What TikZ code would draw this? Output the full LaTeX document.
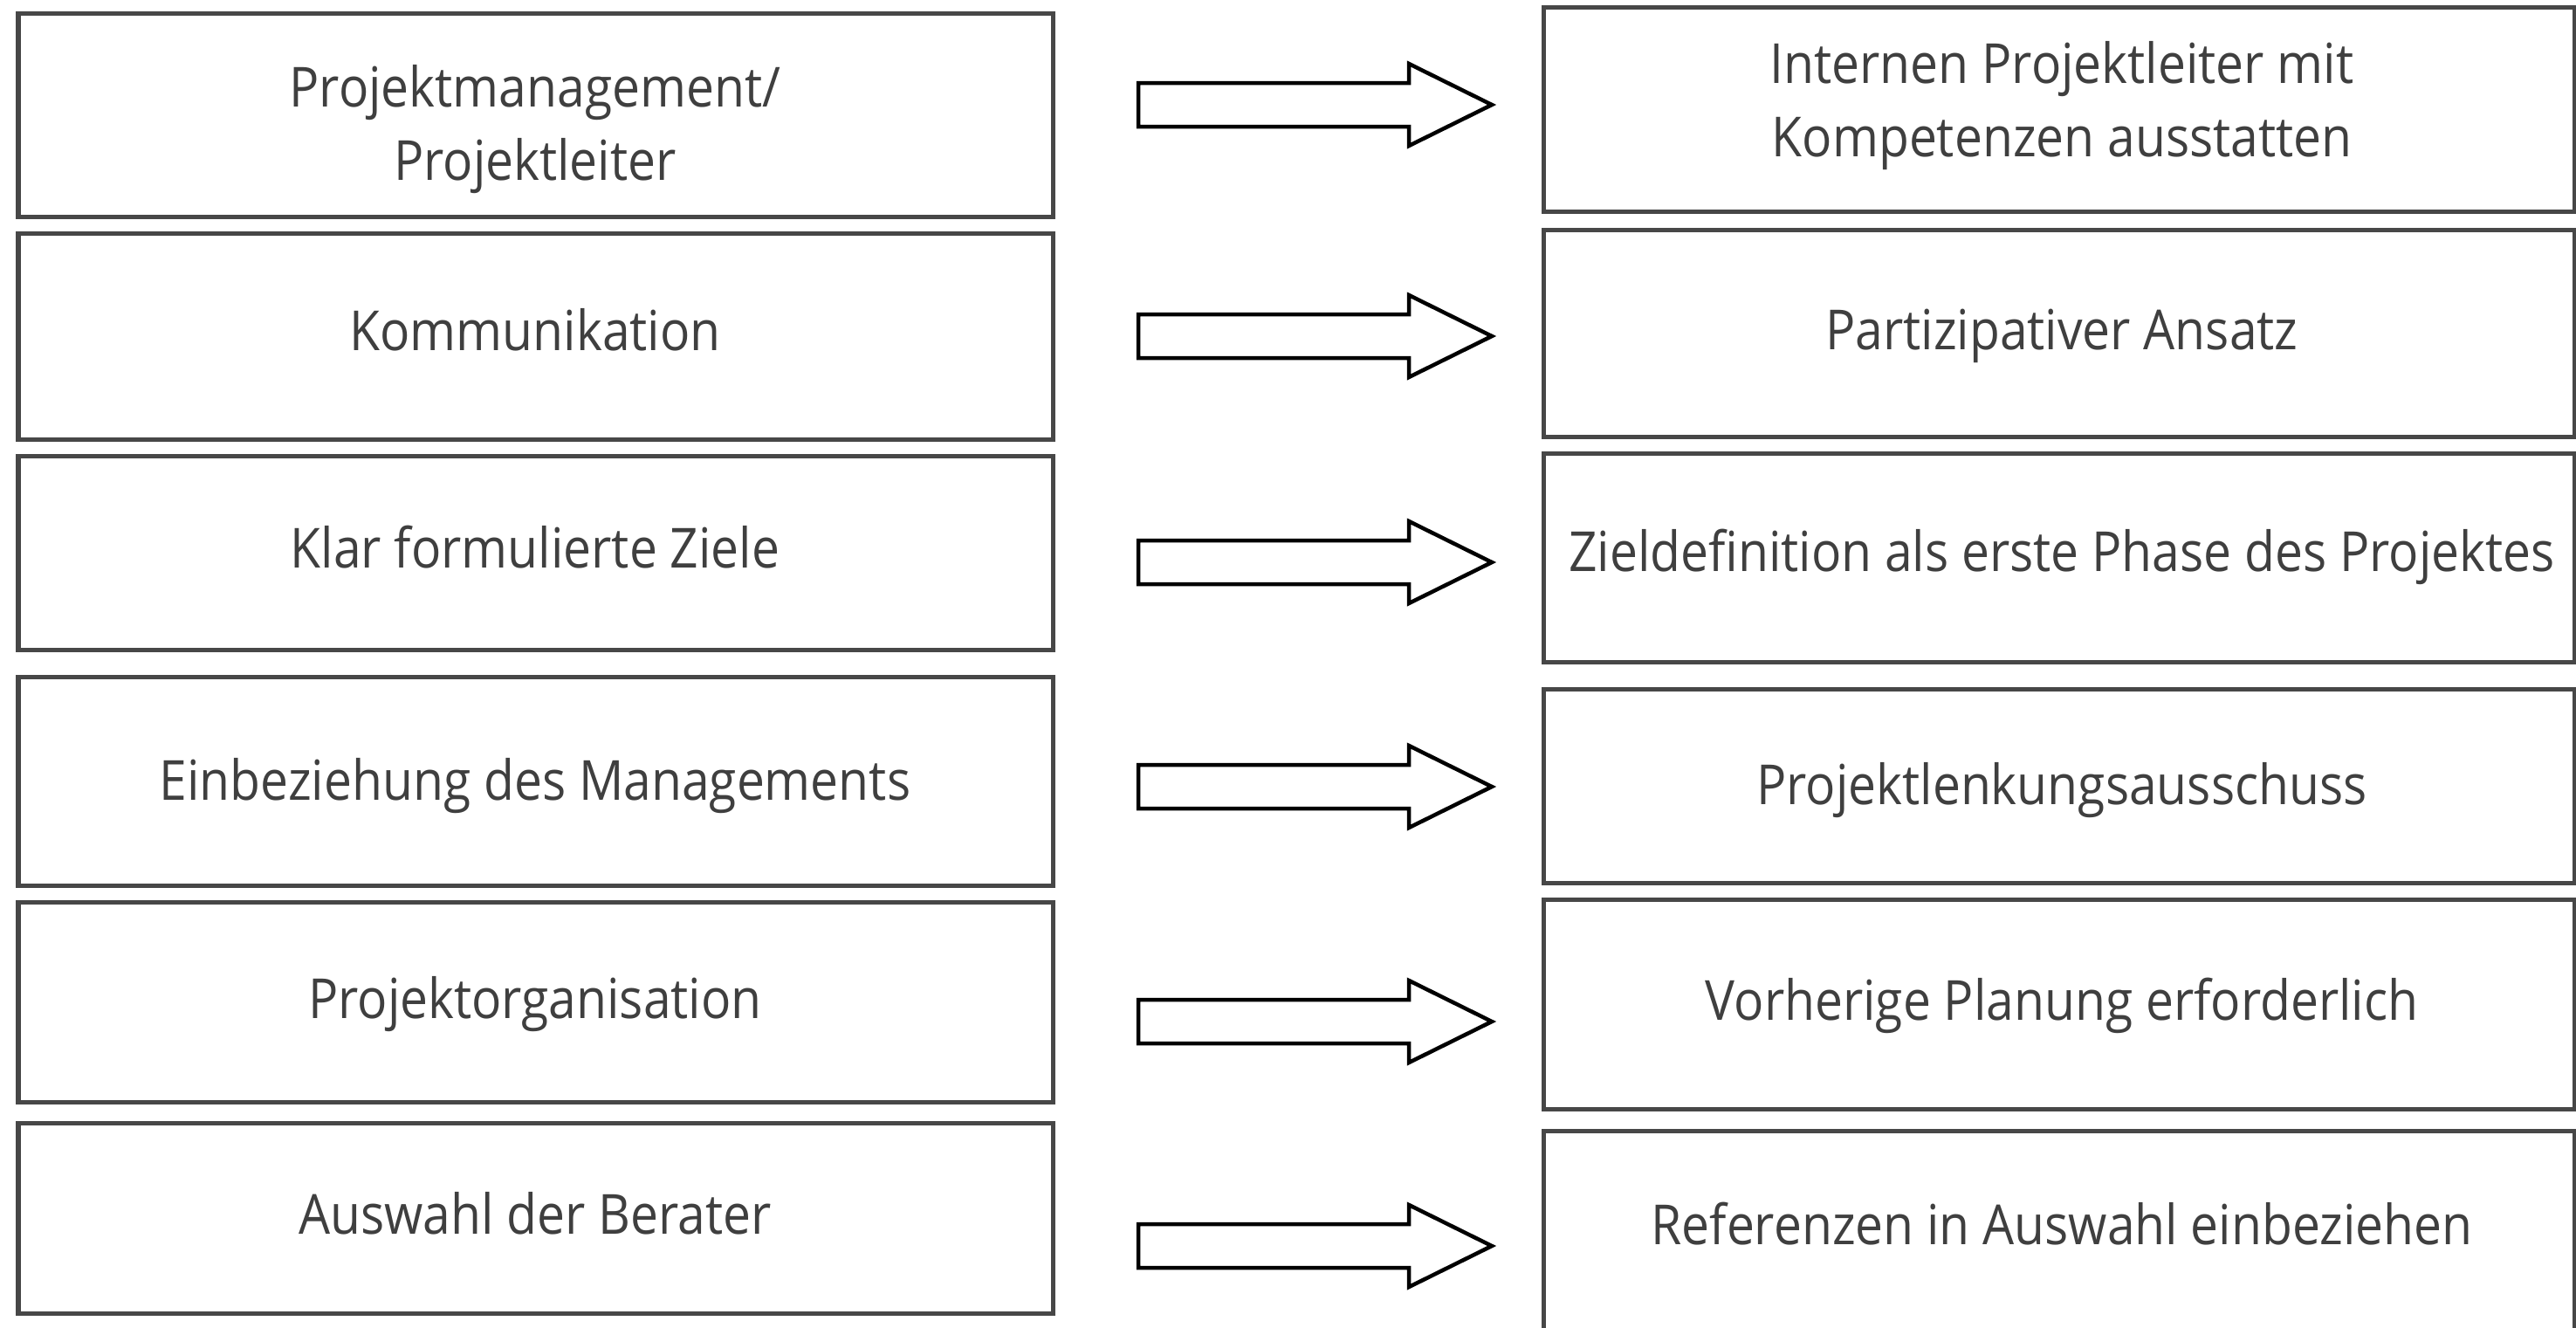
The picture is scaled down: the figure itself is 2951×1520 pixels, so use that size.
\documentclass[tikz,border=0pt]{standalone}
\usepackage{fontspec}
\setmainfont{Open Sans}[FakeStretch=0.9]
\definecolor{boxline}{HTML}{474747}
\definecolor{txt}{HTML}{3F3F3F}
\begin{document}
\begin{tikzpicture}[x=0.01cm,y=-0.01cm,
  box/.style={draw=boxline,line width=0.05cm,fill=none,rectangle,inner sep=0pt},
  lbl/.style={text=txt,font=\fontsize{18}{24}\selectfont,align=center,inner sep=0pt},
  blockarrow/.style={draw=black,line width=0.045cm,fill=white,line join=miter}]
\useasboundingbox (0,0) rectangle (2951,1520);
% left boxes
\foreach \n/\t/\b in {1/15/248,2/267/503,3/522/744,4/775/1014,5/1033/1262,6/1286/1504}{
  \draw[box] (21,\t) rectangle (1206,\b);
}
% right boxes
\foreach \n/\t/\b in {1/8/242,2/263/500,3/519/758,4/789/1011,5/1030/1270,6/1295/1560}{
  \draw[box] (1768,\t) rectangle (2949,\b);
}
% left texts
\node[lbl] (l1) at (613,148) {Projektmanagement/\\Projektleiter};
\node[lbl] (l2) at (613,378) {Kommunikation};
\node[lbl] (l3) at (613,627) {Klar formulierte Ziele};
\node[lbl] (l4) at (613,900) {Einbeziehung des Managements};
\node[lbl] (l5) at (613,1150) {Projektorganisation};
\node[lbl] (l6) at (613,1390) {Auswahl der Berater};
% right texts
\node[lbl] (r1) at (2362,121) {Internen Projektleiter mit\\Kompetenzen ausstatten};
\node[lbl] (r2) at (2362,385) {Partizipativer Ansatz};
\node[lbl] (r3) at (2362,638) {Zieldefinition als erste Phase des Projektes};
\node[lbl] (r4) at (2362,905) {Projektlenkungsausschuss};
\node[lbl] (r5) at (2362,1152) {Vorherige Planung erforderlich};
\node[lbl] (r6) at (2362,1402) {Referenzen in Auswahl einbeziehen};
% arrows
\foreach \c in {120,385,644,901,1170,1427}{
  \coordinate (a) at (1304,\c);
  \draw[blockarrow] (a) ++(0,-25) -- ++(310,0) -- ++(0,-22) -- ++(95,47) -- ++(-95,47) -- ++(0,-22) -- ++(-310,0) -- cycle;
}
\end{tikzpicture}
\end{document}
